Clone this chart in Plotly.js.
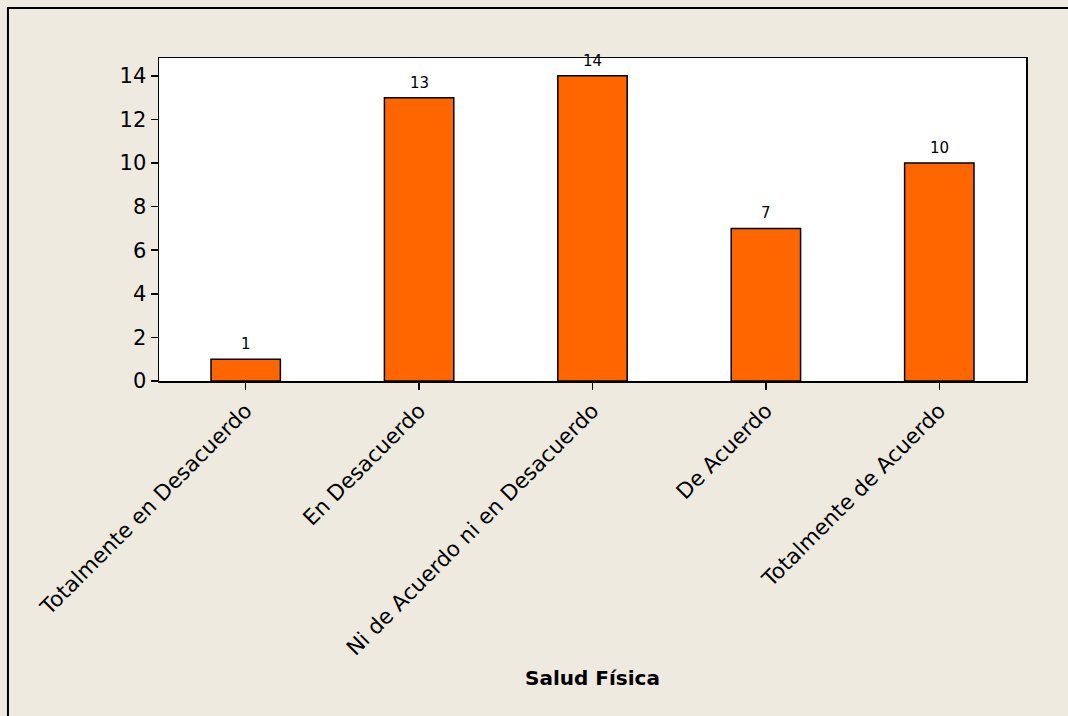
<!DOCTYPE html>
<html>
<head>
<meta charset="utf-8">
<script src="https://cdn.plot.ly/plotly-3.0.1.min.js"></script>
<style>
html,body{margin:0;padding:0;background:#EEEAE0;}
#chart{width:1068px;height:716px;}
</style>
</head>
<body>
<div id="chart"></div>
<script>
const categories = ["Totalmente en Desacuerdo", "En Desacuerdo", "Ni de Acuerdo ni en Desacuerdo", "De Acuerdo", "Totalmente de Acuerdo"];
const counts = [1, 13, 14, 7, 10];
const yTicks = [0, 2, 4, 6, 8, 10, 12, 14];
const xTitle = "Salud Física";

const font = "DejaVu Sans, Verdana, sans-serif";

const trace = {
  type: "bar",
  x: categories,
  y: counts,
  width: 0.4,
  marker: {color: "#FF6600", line: {color: "#000000", width: 1.5}},
  hoverinfo: "x+y"
};

const annotations = categories.map((c, i) => ({
  x: c, y: counts[i], xref: "x", yref: "y",
  text: String(counts[i]), showarrow: false,
  yanchor: "bottom", yshift: 4,
  font: {family: font, size: 15, color: "#000"}
}));

const layout = {
  width: 1068, height: 716,
  paper_bgcolor: "#EEEAE0",
  plot_bgcolor: "#FFFFFF",
  margin: {l: 159, r: 42, t: 58, b: 335},
  showlegend: false,
  font: {family: font, color: "#000"},
  xaxis: {
    type: "category",
    range: [-0.5, 4.5],
    tickangle: -45,
    ticks: "outside", ticklen: 7, tickwidth: 1.5, tickcolor: "#000",
    tickfont: {family: font, size: 21.5, color: "#000"},
    showline: true, linecolor: "#000", linewidth: 1.5, mirror: true,
    showgrid: false, zeroline: false,
    title: {text: "<b>" + xTitle + "</b>", font: {family: font, size: 20, color: "#000"}, standoff: 11},
    automargin: false
  },
  yaxis: {
    range: [0, 14.82],
    tickvals: yTicks,
    ticks: "outside", ticklen: 7, tickwidth: 1.5, tickcolor: "#000",
    tickfont: {family: font, size: 21, color: "#000"},
    showline: true, linecolor: "#000", linewidth: 1.5, mirror: true,
    showgrid: false, zeroline: false,
    automargin: false
  },
  annotations: annotations,
  shapes: [{
    type: "rect", xref: "paper", yref: "paper",
    x0: -0.1742, x1: 2, y0: -3, y1: 1.1548,
    line: {color: "#000", width: 2}, fillcolor: "rgba(0,0,0,0)", layer: "below"
  }]
};

Plotly.newPlot("chart", [trace], layout, {displayModeBar: false, staticPlot: true});
</script>
</body>
</html>
